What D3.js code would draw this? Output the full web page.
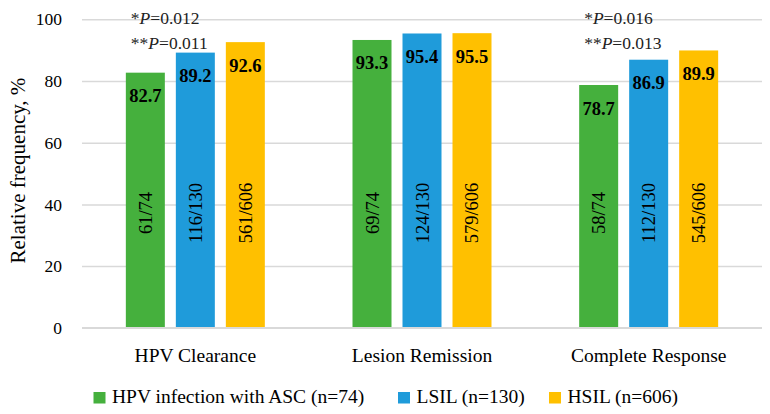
<!DOCTYPE html>
<html>
<head>
<meta charset="utf-8">
<script src="https://cdn.jsdelivr.net/npm/d3@7"></script>
</head>
<body style="margin:0;padding:0;background:#fff">
<svg id="chart" width="770" height="414" style="display:block"></svg>
<script>
const categories = ["HPV Clearance", "Lesion Remission", "Complete Response"];
const seriesNames = ["HPV infection with ASC (n=74)", "LSIL (n=130)", "HSIL (n=606)"];
const seriesColors = ["#45B03D", "#1F9BDA", "#FFC000"];
const ascValues = [82.7, 93.3, 78.7];
const lsilValues = [89.2, 95.4, 86.9];
const hsilValues = [92.6, 95.5, 89.9];
const ascCounts = ["61/74", "69/74", "58/74"];
const lsilCounts = ["116/130", "124/130", "112/130"];
const hsilCounts = ["561/606", "579/606", "545/606"];
const yTicks = [0, 20, 40, 60, 80, 100];
const pValueNotes = [
  { category: "HPV Clearance", lines: [["*", "P", "=0.012"], ["**", "P", "=0.011"]] },
  { category: "Complete Response", lines: [["*", "P", "=0.016"], ["**", "P", "=0.013"]] }
];
const yTitle = "Relative frequency, %";

const valuesBySeries = [ascValues, lsilValues, hsilValues];
const countsBySeries = [ascCounts, lsilCounts, hsilCounts];
const FONT = '"Liberation Serif"';

const svg = d3.select("#chart");
const mLeft = 82, mRight = 762, mTop = 19.3, mBottom = 327.8;

const y = d3.scaleLinear().domain([0, 100]).range([mBottom, mTop]);
const x0 = d3.scaleBand().domain(categories).range([mLeft, mRight])
  .paddingInner(0.3868).paddingOuter(0.1934);
const x1 = d3.scaleBand().domain(d3.range(seriesNames.length))
  .range([0, x0.bandwidth()]).paddingInner(0.22).paddingOuter(0);

// gridlines
const yAxis = d3.axisLeft(y).tickValues(yTicks).tickSize(-(mRight - mLeft)).tickPadding(20);
const gy = svg.append("g").attr("transform", `translate(${mLeft},0)`).call(yAxis);
gy.select(".domain").remove();
gy.selectAll(".tick line").attr("stroke", "#d9d9d9").attr("stroke-width", 1.5);
gy.selectAll(".tick text")
  .attr("x", -20)
  .style("font-family", FONT)
  .style("font-size", "17.5px")
  .attr("fill", "#000");

// bars
const rows = [];
categories.forEach((c, ci) => {
  valuesBySeries.forEach((vals, si) => {
    rows.push({ cat: c, si, value: vals[ci], count: countsBySeries[si][ci] });
  });
});

const gBars = svg.append("g");
gBars.selectAll("rect").data(rows).join("rect")
  .attr("x", d => x0(d.cat) + x1(d.si))
  .attr("y", d => y(d.value))
  .attr("width", x1.bandwidth())
  .attr("height", d => y(0) - y(d.value))
  .attr("fill", d => seriesColors[d.si]);

// value labels
gBars.selectAll("text.val").data(rows).join("text")
  .attr("class", "val")
  .attr("x", d => x0(d.cat) + x1(d.si) + x1.bandwidth() / 2)
  .attr("y", d => y(d.value) + 29.5)
  .attr("text-anchor", "middle")
  .style("font-family", FONT)
  .style("font-size", "18.5px")
  .style("font-weight", "bold")
  .attr("fill", "#000")
  .text(d => d.value.toFixed(1));

// count labels (rotated)
gBars.selectAll("text.cnt").data(rows).join("text")
  .attr("class", "cnt")
  .attr("transform", d => `translate(${x0(d.cat) + x1(d.si) + x1.bandwidth() / 2 + 6.5},${y(37.2)}) rotate(-90)`)
  .attr("text-anchor", "middle")
  .style("font-family", FONT)
  .style("font-size", "18.5px")
  .attr("fill", "#000")
  .text(d => d.count);

// x axis line (0)
svg.append("line")
  .attr("x1", mLeft).attr("x2", mRight)
  .attr("y1", y(0)).attr("y2", y(0))
  .attr("stroke", "#d9d9d9").attr("stroke-width", 1.5);

// category labels
svg.append("g").selectAll("text").data(categories).join("text")
  .attr("x", d => x0(d) + x0.bandwidth() / 2)
  .attr("y", 361.5)
  .attr("text-anchor", "middle")
  .style("font-family", FONT)
  .style("font-size", "19.5px")
  .attr("fill", "#000")
  .text(d => d);

// y title
svg.append("text")
  .attr("transform", `translate(25,${(mTop + mBottom) / 2 - 3}) rotate(-90)`)
  .attr("text-anchor", "middle")
  .style("font-family", FONT)
  .style("font-size", "21px")
  .attr("fill", "#000")
  .text(yTitle);

// p-value annotations
pValueNotes.forEach(note => {
  const gx = x0(note.category) + x1(0) + 5;
  note.lines.forEach((parts, li) => {
    const t = svg.append("text")
      .attr("x", gx)
      .attr("y", 24.3 + li * 24.2)
      .style("font-family", FONT)
      .style("font-size", "17.5px")
      .attr("fill", "#222");
    t.append("tspan").text(parts[0]);
    t.append("tspan").style("font-style", "italic").text(parts[1]);
    t.append("tspan").text(parts[2]);
  });
});

// legend
const legendX = [93.5, 398, 549];
const lg = svg.append("g");
seriesNames.forEach((name, i) => {
  lg.append("rect")
    .attr("x", legendX[i]).attr("y", 392)
    .attr("width", 12).attr("height", 11.5)
    .attr("fill", seriesColors[i]);
  lg.append("text")
    .attr("x", legendX[i] + 18.5).attr("y", 403)
    .style("font-family", FONT)
    .style("font-size", "19.5px")
    .attr("fill", "#000")
    .text(name);
});
</script>
</body>
</html>
